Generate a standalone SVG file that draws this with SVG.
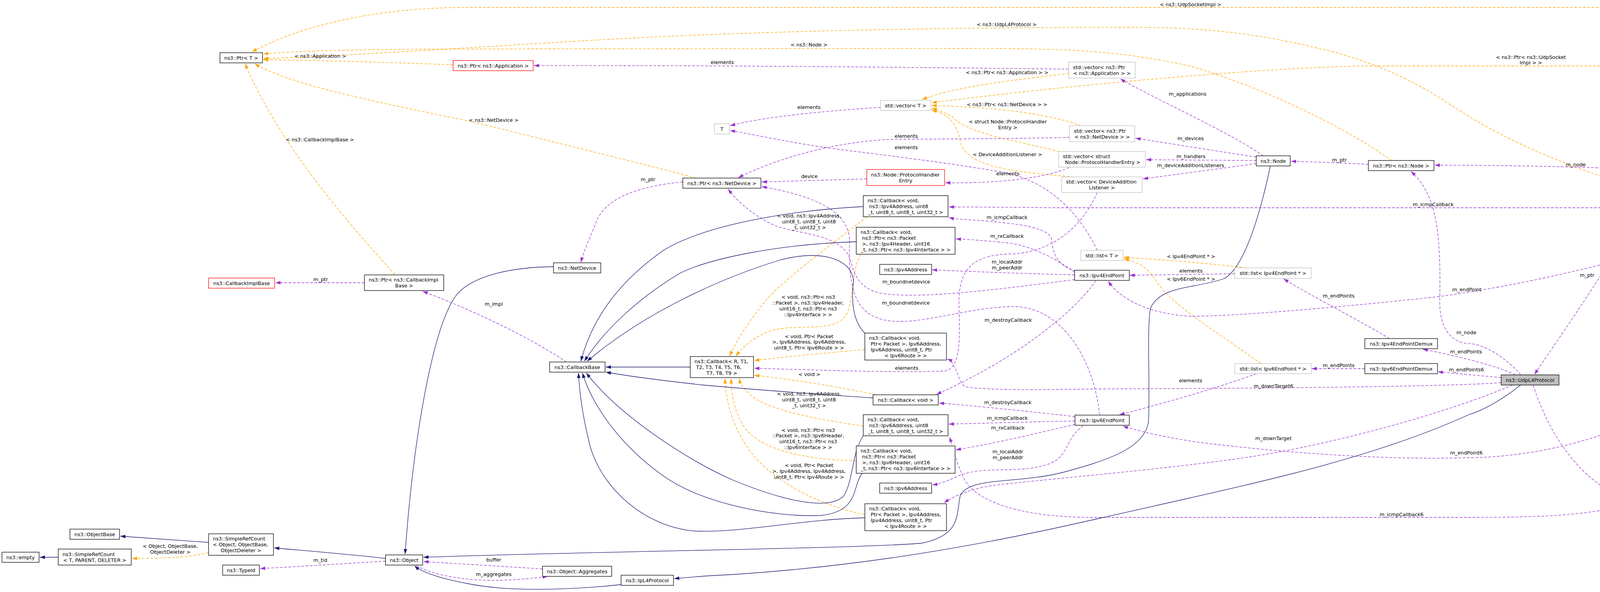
<svg xmlns="http://www.w3.org/2000/svg" width="5255" height="1516" viewBox="0 0 5255 1516">
<style>
text{font-family:"DejaVu Sans","Liberation Sans",sans-serif;font-size:12.8px;fill:#000}
.m{text-anchor:middle}
.n rect{fill:#fff;stroke:#000;stroke-width:1.3}
.r rect{stroke:#f00}
.g rect{stroke:#bfbfbf}
.f rect{fill:#bfbfbf}
.e path{fill:none;stroke-width:1.3}
.u{stroke:#9a32cd;stroke-dasharray:7,4;marker-end:url(#ap)}
.t{stroke:#ffa500;stroke-dasharray:7,4;marker-end:url(#ao)}
.i{stroke:#191970;marker-end:url(#an)}
</style>
<defs>
<marker id="ap" markerUnits="userSpaceOnUse" markerWidth="14" markerHeight="10" refX="13" refY="4.5" orient="auto"><path d="M0,0 L13,4.5 L0,9 z" fill="#9a32cd"/></marker>
<marker id="ao" markerUnits="userSpaceOnUse" markerWidth="14" markerHeight="10" refX="13" refY="4.5" orient="auto"><path d="M0,0 L13,4.5 L0,9 z" fill="#ffa500"/></marker>
<marker id="an" markerUnits="userSpaceOnUse" markerWidth="14" markerHeight="10" refX="13" refY="4.5" orient="auto"><path d="M0,0 L13,4.5 L0,9 z" fill="#191970"/></marker>
</defs>
<rect width="5255" height="1516" fill="#fff"/>
<g id="connectors" class="e">
<path class="t" d="M4806,91 C4740,50 4640,19 4500,19 L1200,19 C950,19 760,70 645,133"/>
<path class="t" d="M4153,469 C4000,420 3850,360 3700,260 C3580,180 3450,140 3380,125 C3200,80 3050,70 2900,70 C2400,70 1900,80 1500,104 C1200,122 850,145 674,150"/>
<path class="t" d="M3563,411 C3450,330 3250,230 3050,170 C2850,125 2700,124 2440,124 L1500,125 C1100,126 850,124 674,138"/>
<path class="t" d="M1160,166 C1000,160 850,155 674,153"/>
<path class="t" d="M1782,456 C1650,420 1400,360 1264,325 C1100,285 760,230 652,163"/>
<path class="t" d="M1011,703 C900,580 720,380 627,163"/>
<path class="t" d="M2736,188 C2600,205 2450,220 2360,255"/>
<path class="t" d="M5053,169 L3500,169 C3300,170 2800,210 2385,263"/>
<path class="t" d="M2767,322 C2680,290 2550,275 2385,270"/>
<path class="t" d="M2712,388 C2600,360 2470,340 2440,300 C2420,290 2405,282 2385,277"/>
<path class="t" d="M2749,453 C2600,440 2470,430 2458,360 C2450,320 2430,292 2385,282"/>
<path class="t" d="M3190,686 C3100,675 2980,665 2877,659"/>
<path class="t" d="M3228,931 C3100,840 3000,780 2960,720 C2940,685 2910,670 2877,663"/>
<path class="t" d="M534,1415 C480,1428 420,1430 338,1430"/>
<path class="t" d="M2219,555 C2150,610 2000,720 1960,770 C1920,820 1885,870 1868,912"/>
<path class="t" d="M2204,651 C2175,700 2190,780 2160,815 C2120,850 2040,830 1980,845 C1930,860 1900,890 1884,912"/>
<path class="t" d="M2214,895 C2100,905 2000,915 1931,923"/>
<path class="t" d="M2240,1011 C2150,990 2030,972 1931,961"/>
<path class="t" d="M2210,1091 C2100,1075 1960,1050 1920,1010 C1905,995 1895,985 1893,969"/>
<path class="t" d="M2192,1180 C2060,1178 1950,1150 1910,1100 C1880,1060 1872,1010 1872,969"/>
<path class="t" d="M2214,1318 C2080,1290 1960,1220 1910,1140 C1870,1080 1858,1020 1856,969"/>
<path class="u" d="M2736,177 C2300,172 1800,167 1367,168"/>
<path class="u" d="M3234,399 C3150,340 2950,250 2868,202"/>
<path class="u" d="M3216,402 C3100,385 3000,368 2907,354"/>
<path class="u" d="M3216,411 L2934,409"/>
<path class="u" d="M3216,419 C3100,435 3000,448 2926,458"/>
<path class="u" d="M2738,352 C2600,355 2400,356 2280,357 C2150,362 2000,400 1890,455"/>
<path class="u" d="M2737,429 C2680,455 2560,470 2420,468"/>
<path class="u" d="M2254,275 C2100,285 1950,300 1869,322"/>
<path class="u" d="M2809,641 C2760,540 2680,460 2560,440 C2400,412 2200,390 2100,376 C2000,360 1930,345 1869,334"/>
<path class="u" d="M2809,493 C2770,580 2700,640 2600,650 C2500,650 2460,680 2455,760 C2455,850 2465,940 2420,950 C2300,955 2100,948 1931,943"/>
<path class="u" d="M2219,458 L1950,466"/>
<path class="u" d="M1748,466 C1650,475 1560,500 1530,560 C1510,610 1495,640 1487,672"/>
<path class="u" d="M933,724 L705,724"/>
<path class="u" d="M1450,927 C1350,860 1200,790 1082,746"/>
<path class="u" d="M987,1437 C900,1442 780,1450 666,1456"/>
<path class="u" d="M1389,1457 C1280,1450 1180,1444 1084,1438"/>
<path class="u" d="M1066,1448 C1110,1475 1200,1488 1280,1486 C1330,1485 1370,1480 1402,1476"/>
<path class="u" d="M3503,421 C3450,418 3380,415 3305,413"/>
<path class="u" d="M4529,469 C4450,452 4300,440 4100,430 C3950,425 3800,423 3673,423"/>
<path class="u" d="M3893,960 C3860,920 3800,880 3760,880 C3700,875 3683,820 3686,760 C3688,600 3680,500 3612,439"/>
<path class="u" d="M4511,482 L4343,482"/>
<path class="u" d="M4218,494 C4160,620 4050,780 3928,959"/>
<path class="u" d="M4828,131 C4780,230 4650,390 4601,467"/>
<path class="u" d="M5053,151 C5010,142 4980,135 4942,128"/>
<path class="u" d="M4578,469 C4560,380 4530,300 4450,265 C4400,245 4350,238 4311,236"/>
<path class="u" d="M4570,469 C4530,400 4480,340 4400,320 C4350,310 4310,305 4282,303"/>
<path class="u" d="M4563,469 C4520,430 4450,390 4380,378 C4350,374 4330,372 4317,372"/>
<path class="u" d="M3925,986 C3960,1100 4050,1260 4210,1292 L4950,1292 C5050,1292 5080,1000 5092,756 C5110,500 5140,300 5149,191"/>
<path class="u" d="M4523,494 C4480,515 4400,530 4300,532 L2700,532 C2600,531 2500,530 2429,530"/>
<path class="u" d="M4570,495 C4520,560 4420,600 4300,625 C4100,680 3900,730 3680,760 C3400,790 3150,810 3050,810 C2950,805 2870,770 2837,720"/>
<path class="u" d="M4580,495 C4560,700 4500,860 4400,950 C4250,1080 4000,1170 3760,1172 C3500,1180 3200,1150 3050,1130 C2960,1115 2900,1100 2875,1091"/>
<path class="u" d="M4588,495 C4580,800 4450,1150 4200,1280 C4100,1320 3950,1325 3760,1325 L2800,1325 C2600,1325 2500,1280 2470,1230 C2450,1190 2440,1150 2431,1119"/>
<path class="u" d="M3872,986 C3700,1060 3400,1140 3200,1170 C3000,1200 2700,1225 2550,1242 C2490,1250 2440,1270 2417,1288"/>
<path class="u" d="M3843,980 C3700,990 3300,994 2820,996 C2650,998 2520,1000 2470,990 C2450,975 2450,930 2425,919"/>
<path class="u" d="M3879,960 C3830,935 3720,910 3642,894"/>
<path class="u" d="M3843,967 C3790,962 3720,956 3681,952"/>
<path class="u" d="M3557,867 C3480,820 3360,760 3286,714"/>
<path class="u" d="M3494,944 L3358,944"/>
<path class="u" d="M3161,701 L2892,705"/>
<path class="u" d="M3216,957 C3100,1000 2950,1040 2866,1062"/>
<path class="u" d="M2751,704 C2600,700 2450,694 2386,691"/>
<path class="u" d="M2751,697 C2700,660 2640,630 2580,622 C2520,616 2480,613 2447,612"/>
<path class="u" d="M2755,694 C2700,680 2695,640 2692,611 C2680,580 2600,570 2440,560 C2436,559 2433,558 2429,557"/>
<path class="u" d="M2806,718 C2750,800 2600,920 2397,1010"/>
<path class="u" d="M2751,716 C2600,735 2350,770 2250,750 C2190,735 2185,690 2175,660 C2150,600 2050,600 1990,580 C1940,560 1890,520 1864,484"/>
<path class="u" d="M2773,1090 C2720,1130 2740,1170 2680,1190 C2600,1215 2520,1190 2450,1220 C2420,1235 2400,1240 2387,1242"/>
<path class="u" d="M2752,1087 C2650,1110 2550,1135 2447,1152"/>
<path class="u" d="M2752,1078 C2650,1080 2520,1084 2429,1086"/>
<path class="u" d="M2752,1067 C2650,1055 2500,1040 2404,1032"/>
<path class="u" d="M2815,1062 C2800,920 2720,790 2600,785 C2450,785 2300,860 2220,800 C2180,770 2172,700 2175,620 C2177,540 2080,500 1950,478"/>
<path class="i" d="M534,1389 L308,1373"/>
<path class="i" d="M149,1427 L102,1427"/>
<path class="i" d="M987,1430 C900,1420 800,1412 702,1403"/>
<path class="i" d="M1417,683 C1300,684 1200,710 1165,760 C1110,840 1060,1100 1037,1419"/>
<path class="i" d="M3252,425 C3230,530 3190,680 3135,713 C3060,740 2970,730 2945,790 C2935,850 2945,1000 2940,1080 C2930,1150 2830,1180 2720,1210 C2600,1240 2480,1220 2458,1270 C2448,1320 2460,1370 2360,1391 C2200,1405 1500,1412 1084,1427"/>
<path class="i" d="M3893,986 C3850,1020 3800,1050 3760,1062 C3500,1180 3200,1240 2820,1326 C2500,1400 2200,1450 1880,1471 C1800,1475 1760,1478 1726,1482"/>
<path class="i" d="M1590,1497 C1450,1512 1300,1515 1200,1495 C1120,1480 1080,1465 1061,1449"/>
<path class="i" d="M4584,494 C4570,650 4550,750 4510,800 C4450,870 4350,880 4291,877"/>
<path class="i" d="M1767,940 L1551,940"/>
<path class="i" d="M2210,529 C2000,540 1800,580 1700,640 C1600,710 1520,800 1487,925"/>
<path class="i" d="M2192,619 C2000,625 1820,660 1740,700 C1640,760 1550,840 1496,925"/>
<path class="i" d="M2214,853 C2180,820 2180,760 2185,720 C2180,660 2100,640 2000,665 C1850,710 1650,800 1503,925"/>
<path class="i" d="M2235,1019 C2100,1010 1900,995 1800,986 C1700,975 1620,965 1551,953"/>
<path class="i" d="M2210,1116 C2180,1160 2185,1230 2160,1270 C2120,1310 2000,1280 1880,1231 C1760,1180 1580,1060 1501,955"/>
<path class="i" d="M2207,1212 C2180,1250 2200,1310 2100,1320 C1980,1325 1800,1290 1700,1220 C1600,1150 1520,1050 1491,955"/>
<path class="i" d="M2214,1326 C2050,1330 1900,1365 1780,1360 C1650,1350 1540,1250 1510,1140 C1490,1060 1483,1000 1481,955"/>
</g>
<g id="connector-labels" class="m">
<text x="3048" y="15.5">&lt; ns3::UdpSocketImpl &gt;</text>
<text x="2577" y="66.5">&lt; ns3::UdpL4Protocol &gt;</text>
<text x="2071" y="118.5">&lt; ns3::Node &gt;</text>
<text x="820" y="147.5">&lt; ns3::Application &gt;</text>
<text x="1849" y="163.5">elements</text>
<text x="2578" y="189.5">&lt; ns3::Ptr&lt; ns3::Application &gt; &gt;</text>
<text x="3040" y="244.5">m_applications</text>
<text x="2578" y="271.5">&lt; ns3::Ptr&lt; ns3::NetDevice &gt; &gt;</text>
<text x="2071" y="278.5">elements</text>
<text x="1264" y="311.5">&lt; ns3::NetDevice &gt;</text>
<text x="2580" y="315.5">&lt; struct Node::ProtocolHandler</text>
<text x="2580" y="330.5">Entry &gt;</text>
<text x="2320" y="352.5">elements</text>
<text x="3048" y="358.5">m_devices</text>
<text x="819" y="361.5">&lt; ns3::CallbackImplBase &gt;</text>
<text x="2320" y="381.5">elements</text>
<text x="2579" y="399.5">&lt; DeviceAdditionListener &gt;</text>
<text x="3049" y="404.5">m_handlers</text>
<text x="3429" y="413.5">m_ptr</text>
<text x="4034" y="425.5">m_node</text>
<text x="3048" y="427.5">m_deviceAdditionListeners</text>
<text x="2580" y="448.5">elements</text>
<text x="2072" y="455.5">device</text>
<text x="1659" y="463.5">m_ptr</text>
<text x="4420" y="477.5">m_udp</text>
<text x="3669" y="527.5">m_icmpCallback</text>
<text x="2071" y="557">&lt; void, ns3::Ipv4Address,</text>
<text x="2071" y="572">uint8_t, uint8_t, uint8</text>
<text x="2071" y="587">_t, uint32_t &gt;</text>
<text x="2578" y="560.5">m_icmpCallback</text>
<text x="2578" y="608.5">m_rxCallback</text>
<text x="3049" y="660.5">&lt; Ipv4EndPoint * &gt;</text>
<text x="2578" y="674.5">m_localAddr</text>
<text x="2578" y="689.5">m_peerAddr</text>
<text x="3049" y="697.5">elements</text>
<text x="4063" y="708.5">m_ptr</text>
<text x="3049" y="718.5">&lt; Ipv6EndPoint * &gt;</text>
<text x="821" y="719.5">m_ptr</text>
<text x="2320" y="725.5">m_boundnetdevice</text>
<text x="3755" y="745.5">m_endPoint</text>
<text x="3427" y="761.5">m_endPoints</text>
<text x="2069" y="764.5">&lt; void, ns3::Ptr&lt; ns3</text>
<text x="2069" y="779.5">::Packet &gt;, ns3::Ipv4Header,</text>
<text x="2069" y="794.5">uint16_t, ns3::Ptr&lt; ns3</text>
<text x="2069" y="809.5">::Ipv4Interface &gt; &gt;</text>
<text x="2319" y="779.5">m_boundnetdevice</text>
<text x="1264" y="782.5">m_impl</text>
<text x="2581" y="823.5">m_destroyCallback</text>
<text x="3754" y="855.5">m_node</text>
<text x="2071" y="865.5">&lt; void, Ptr&lt; Packet</text>
<text x="2071" y="880">&gt;, Ipv6Address, Ipv6Address,</text>
<text x="2071" y="895">uint8_t, Ptr&lt; Ipv6Route &gt; &gt;</text>
<text x="3753" y="904.5">m_endPoints</text>
<text x="3427" y="939.5">m_endPoints</text>
<text x="2321" y="946.5">elements</text>
<text x="3754" y="950.5">m_endPoints6</text>
<text x="2072" y="962.5">&lt; void &gt;</text>
<text x="3048" y="978.5">elements</text>
<text x="3260" y="992.5">m_downTarget6</text>
<text x="2071" y="1013">&lt; void, ns3::Ipv6Address,</text>
<text x="2071" y="1028">uint8_t, uint8_t, uint8</text>
<text x="2071" y="1043">_t, uint32_t &gt;</text>
<text x="2580" y="1034.5">m_destroyCallback</text>
<text x="2579" y="1074.5">m_icmpCallback</text>
<text x="2580" y="1099.5">m_rxCallback</text>
<text x="2069" y="1105.5">&lt; void, ns3::Ptr&lt; ns3</text>
<text x="2069" y="1120">::Packet &gt;, ns3::Ipv6Header,</text>
<text x="2069" y="1135">uint16_t, ns3::Ptr&lt; ns3</text>
<text x="2069" y="1150">::Ipv6Interface &gt; &gt;</text>
<text x="3260" y="1127">m_downTarget</text>
<text x="2580" y="1160.5">m_localAddr</text>
<text x="2580" y="1175.5">m_peerAddr</text>
<text x="3754" y="1163.5">m_endPoint6</text>
<text x="2071" y="1195.5">&lt; void, Ptr&lt; Packet</text>
<text x="2071" y="1210.5">&gt;, Ipv4Address, Ipv4Address,</text>
<text x="2071" y="1225.5">uint8_t, Ptr&lt; Ipv4Route &gt; &gt;</text>
<text x="4589" y="1287.5">m_sockets</text>
<text x="3588" y="1321.5">m_icmpCallback6</text>
<text x="436" y="1402.5">&lt; Object, ObjectBase,</text>
<text x="436" y="1417.5">ObjectDeleter &gt;</text>
<text x="1264" y="1437.5">buffer</text>
<text x="820" y="1438.5">m_tid</text>
<text x="1264" y="1474.5">m_aggregates</text>
<text x="4998" y="131.5">elements</text>
<text x="4428" y="240.5">m_dropTrace</text>
<text x="4710" y="281.5">m_ptr</text>
<text x="4427" y="310.5">m_defaultAddress</text>
<text x="4427" y="375.5">m_deliveryQueue</text>
<text x="3919" y="150.5">&lt; ns3::Ptr&lt; ns3::UdpSocket</text>
<text x="3919" y="165">Impl &gt; &gt;</text>
</g>
<g id="n-ptr-t" class="n"><rect x="563" y="135" width="109" height="26"/><text class="m" x="617.5" y="152.5">ns3::Ptr&lt; T &gt;</text></g>
<g id="n-ptr-application" class="n r"><rect x="1160" y="155" width="205" height="26"/><text class="m" x="1262.5" y="172.5">ns3::Ptr&lt; ns3::Application &gt;</text></g>
<g id="n-callbackimplbase" class="n r"><rect x="534" y="712" width="169" height="26"/><text class="m" x="618.5" y="729.5">ns3::CallbackImplBase</text></g>
<g id="n-ptr-callbackimplbase" class="n"><rect x="933" y="704" width="203" height="40"/><text x="944" y="721">ns3::Ptr&lt; ns3::CallbackImpl</text><text class="m" x="1034.5" y="736">Base &gt;</text></g>
<g id="n-netdevice" class="n"><rect x="1417" y="673" width="121" height="26"/><text class="m" x="1477.5" y="690.5">ns3::NetDevice</text></g>
<g id="n-callbackbase" class="n"><rect x="1407" y="927" width="142" height="26"/><text class="m" x="1478" y="944.5">ns3::CallbackBase</text></g>
<g id="n-callback-template" class="n"><rect x="1767" y="913" width="162" height="54"/><text x="1778" y="929.5">ns3::Callback&lt; R, T1,</text><text x="1782" y="944.5">T2, T3, T4, T5, T6,</text><text class="m" x="1848" y="959.5">T7, T8, T9 &gt;</text></g>
<g id="n-object" class="n"><rect x="987" y="1421" width="95" height="26"/><text class="m" x="1034.5" y="1438.5">ns3::Object</text></g>
<g id="n-object-aggregates" class="n"><rect x="1389" y="1450" width="177" height="26"/><text class="m" x="1477.5" y="1467.5">ns3::Object::Aggregates</text></g>
<g id="n-ipl4protocol" class="n"><rect x="1590" y="1473" width="134" height="26"/><text class="m" x="1657" y="1490.5">ns3::IpL4Protocol</text></g>
<g id="n-objectbase" class="n"><rect x="179" y="1355" width="127" height="26"/><text class="m" x="242.5" y="1372.5">ns3::ObjectBase</text></g>
<g id="n-simplerefcount-object" class="n"><rect x="534" y="1367" width="166" height="55"/><text x="545" y="1384">ns3::SimpleRefCount</text><text x="545" y="1399">&lt; Object, ObjectBase,</text><text class="m" x="617" y="1414">ObjectDeleter &gt;</text></g>
<g id="n-empty" class="n"><rect x="5" y="1414" width="95" height="26"/><text class="m" x="52.5" y="1431.5">ns3::empty</text></g>
<g id="n-simplerefcount-t" class="n"><rect x="149" y="1406" width="187" height="41"/><text x="160" y="1423.5">ns3::SimpleRefCount</text><text class="m" x="242.5" y="1438.5">&lt; T, PARENT, DELETER &gt;</text></g>
<g id="n-typeid" class="n"><rect x="570" y="1447" width="94" height="26"/><text class="m" x="617" y="1464.5">ns3::TypeId</text></g>
<g id="n-vector-t" class="n g"><rect x="2254" y="257" width="129" height="26"/><text class="m" x="2318.5" y="274.5">std::vector&lt; T &gt;</text></g>
<g id="n-t" class="n g"><rect x="1829" y="317" width="38" height="26"/><text class="m" x="1848" y="334.5">T</text></g>
<g id="n-ptr-netdevice" class="n"><rect x="1748" y="456" width="200" height="26"/><text class="m" x="1848" y="473.5">ns3::Ptr&lt; ns3::NetDevice &gt;</text></g>
<g id="n-protocolhandlerentry" class="n r"><rect x="2219" y="434" width="199" height="41"/><text x="2230" y="451.5">ns3::Node::ProtocolHandler</text><text class="m" x="2318.5" y="466.5">Entry</text></g>
<g id="n-callback-icmp4" class="n"><rect x="2210" y="501" width="217" height="54"/><text x="2221" y="517.5">ns3::Callback&lt; void,</text><text x="2225" y="532.5">ns3::Ipv4Address, uint8</text><text class="m" x="2318.5" y="547.5">_t, uint8_t, uint8_t, uint32_t &gt;</text></g>
<g id="n-callback-rx4" class="n"><rect x="2192" y="582" width="253" height="69"/><text x="2203" y="598.5">ns3::Callback&lt; void,</text><text x="2207" y="613.5">ns3::Ptr&lt; ns3::Packet</text><text x="2207" y="628.5">&gt;, ns3::Ipv4Header, uint16</text><text class="m" x="2318.5" y="643.5">_t, ns3::Ptr&lt; ns3::Ipv4Interface &gt; &gt;</text></g>
<g id="n-ipv4address" class="n"><rect x="2252" y="677" width="133" height="26"/><text class="m" x="2318.5" y="694.5">ns3::Ipv4Address</text></g>
<g id="n-callback-down6" class="n"><rect x="2214" y="853" width="209" height="69"/><text x="2225" y="869.5">ns3::Callback&lt; void,</text><text x="2229" y="884.5">Ptr&lt; Packet &gt;, Ipv6Address,</text><text x="2229" y="899.5">Ipv6Address, uint8_t, Ptr</text><text class="m" x="2318.5" y="914.5">&lt; Ipv6Route &gt; &gt;</text></g>
<g id="n-callback-void" class="n"><rect x="2235" y="1011" width="167" height="26"/><text class="m" x="2318.5" y="1028.5">ns3::Callback&lt; void &gt;</text></g>
<g id="n-callback-icmp6" class="n"><rect x="2210" y="1062" width="217" height="54"/><text x="2221" y="1078.5">ns3::Callback&lt; void,</text><text x="2225" y="1093.5">ns3::Ipv6Address, uint8</text><text class="m" x="2318.5" y="1108.5">_t, uint8_t, uint8_t, uint32_t &gt;</text></g>
<g id="n-callback-rx6" class="n"><rect x="2192" y="1142" width="253" height="70"/><text x="2203" y="1159">ns3::Callback&lt; void,</text><text x="2207" y="1174">ns3::Ptr&lt; ns3::Packet</text><text x="2207" y="1189">&gt;, ns3::Ipv6Header, uint16</text><text class="m" x="2318.5" y="1204">_t, ns3::Ptr&lt; ns3::Ipv6Interface &gt; &gt;</text></g>
<g id="n-ipv6address" class="n"><rect x="2252" y="1237" width="133" height="26"/><text class="m" x="2318.5" y="1254.5">ns3::Ipv6Address</text></g>
<g id="n-callback-down4" class="n"><rect x="2214" y="1290" width="209" height="69"/><text x="2225" y="1306.5">ns3::Callback&lt; void,</text><text x="2229" y="1321.5">Ptr&lt; Packet &gt;, Ipv4Address,</text><text x="2229" y="1336.5">Ipv4Address, uint8_t, Ptr</text><text class="m" x="2318.5" y="1351.5">&lt; Ipv4Route &gt; &gt;</text></g>
<g id="n-vector-ptr-application" class="n g"><rect x="2736" y="159" width="170" height="41"/><text x="2747" y="176.5">std::vector&lt; ns3::Ptr</text><text class="m" x="2821" y="191.5">&lt; ns3::Application &gt; &gt;</text></g>
<g id="n-vector-ptr-netdevice" class="n g"><rect x="2738" y="322" width="167" height="41"/><text x="2749" y="339.5">std::vector&lt; ns3::Ptr</text><text class="m" x="2821.5" y="354.5">&lt; ns3::NetDevice &gt; &gt;</text></g>
<g id="n-vector-protocolhandlerentry" class="n g"><rect x="2710" y="388" width="222" height="40"/><text x="2721" y="405">std::vector&lt; struct</text><text class="m" x="2823" y="420">Node::ProtocolHandlerEntry &gt;</text></g>
<g id="n-vector-deviceadditionlistener" class="n g"><rect x="2718" y="453" width="206" height="40"/><text x="2729" y="470">std::vector&lt; DeviceAddition</text><text class="m" x="2821" y="485">Listener &gt;</text></g>
<g id="n-node" class="n"><rect x="3216" y="399" width="87" height="26"/><text class="m" x="3259.5" y="416.5">ns3::Node</text></g>
<g id="n-list-t" class="n g"><rect x="2767" y="641" width="108" height="26"/><text class="m" x="2821" y="658.5">std::list&lt; T &gt;</text></g>
<g id="n-ipv4endpoint" class="n"><rect x="2751" y="692" width="140" height="26"/><text class="m" x="2821" y="709.5">ns3::Ipv4EndPoint</text></g>
<g id="n-list-ipv4endpoint" class="n g"><rect x="3161" y="686" width="196" height="27"/><text class="m" x="3259" y="704">std::list&lt; Ipv4EndPoint * &gt;</text></g>
<g id="n-ipv6endpoint" class="n"><rect x="2752" y="1063" width="139" height="26"/><text class="m" x="2821.5" y="1080.5">ns3::Ipv6EndPoint</text></g>
<g id="n-list-ipv6endpoint" class="n g"><rect x="3161" y="931" width="196" height="26"/><text class="m" x="3259" y="948.5">std::list&lt; Ipv6EndPoint * &gt;</text></g>
<g id="n-ipv4endpointdemux" class="n"><rect x="3494" y="867" width="186" height="26"/><text class="m" x="3587" y="884.5">ns3::Ipv4EndPointDemux</text></g>
<g id="n-ipv6endpointdemux" class="n"><rect x="3494" y="931" width="186" height="26"/><text class="m" x="3587" y="948.5">ns3::Ipv6EndPointDemux</text></g>
<g id="n-ptr-node" class="n"><rect x="3503" y="411" width="168" height="26"/><text class="m" x="3587" y="428.5">ns3::Ptr&lt; ns3::Node &gt;</text></g>
<g id="n-ptr-udpl4protocol" class="n"><rect x="4114" y="469" width="227" height="26"/><text class="m" x="4227.5" y="486.5">ns3::Ptr&lt; ns3::UdpL4Protocol &gt;</text></g>
<g id="n-tracedcallback" class="n r"><rect x="4147" y="207" width="162" height="55"/><text x="4158" y="224">ns3::TracedCallback</text><text x="4158" y="239">&lt; ns3::Ptr&lt; const ns3</text><text class="m" x="4228" y="254">::Packet &gt; &gt;</text></g>
<g id="n-address" class="n"><rect x="4175" y="287" width="105" height="26"/><text class="m" x="4227.5" y="304.5">ns3::Address</text></g>
<g id="n-queue" class="n g"><rect x="4141" y="337" width="174" height="55"/><text x="4152" y="354">std::queue&lt; std::pair</text><text x="4152" y="369">&lt; ns3::Ptr&lt; ns3::Packet</text><text class="m" x="4228" y="384">&gt;, ns3::Address &gt; &gt;</text></g>
<g id="n-udpsocketimpl" class="n"><rect x="4511" y="469" width="152" height="26"/><text class="m" x="4587" y="486.5">ns3::UdpSocketImpl</text></g>
<g id="n-ptr-udpsocketimpl" class="n"><rect x="4753" y="91" width="187" height="40"/><text x="4764" y="108">ns3::Ptr&lt; ns3::UdpSocket</text><text class="m" x="4846.5" y="123">Impl &gt;</text></g>
<g id="n-vector-ptr-udpsocketimpl" class="n g"><rect x="5053" y="149" width="196" height="40"/><text x="5064" y="166">std::vector&lt; ns3::Ptr</text><text class="m" x="5151" y="181">&lt; ns3::UdpSocketImpl &gt; &gt;</text></g>
<g id="n-udpsocket" class="n r"><rect x="4167" y="853" width="122" height="27"/><text class="m" x="4228" y="871">ns3::UdpSocket</text></g>
<g id="n-udpl4protocol" class="n f"><rect x="3843" y="960" width="148" height="26"/><text class="m" x="3917" y="977.5">ns3::UdpL4Protocol</text></g>
</svg>
